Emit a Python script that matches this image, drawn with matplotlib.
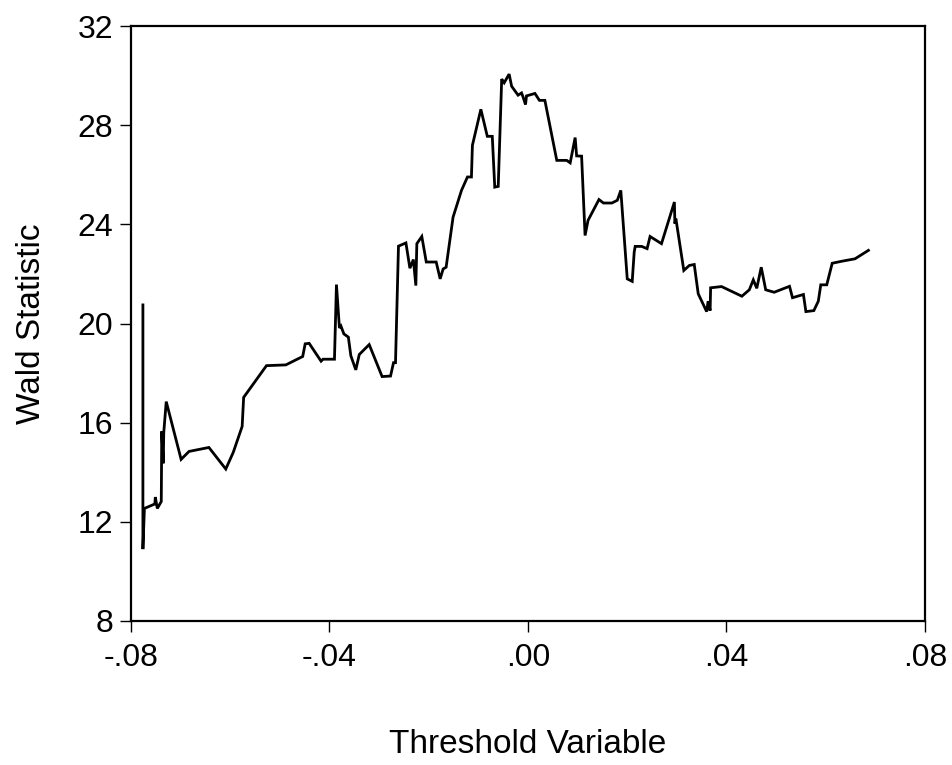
import matplotlib
matplotlib.use("Agg")
import matplotlib.pyplot as plt
from matplotlib.ticker import FixedLocator, FixedFormatter

threshold = [
    -0.0776, -0.0776, -0.0773, -0.0752, -0.0751, -0.0747, -0.0739, -0.0738, -0.0735,
    -0.0734, -0.0729, -0.0699, -0.0683, -0.0643, -0.0609, -0.0594, -0.0576, -0.0573,
    -0.0527, -0.0488, -0.0454, -0.0449, -0.0441, -0.0429, -0.0417, -0.0413, -0.0390,
    -0.0386, -0.0380, -0.0377, -0.0371, -0.0362, -0.0357, -0.0347, -0.0340, -0.0320,
    -0.0294, -0.0277, -0.0271, -0.0267, -0.0261, -0.0246, -0.0238, -0.0231, -0.0226,
    -0.0224, -0.0214, -0.0205, -0.0185, -0.0177, -0.0171, -0.0165, -0.0151, -0.0134,
    -0.0122, -0.0114, -0.0112, -0.0095, -0.0082, -0.0072, -0.0067, -0.0060, -0.0053,
    -0.0048, -0.0038, -0.0033, -0.0020, -0.0013, -0.0010, -0.0005, -0.0003, 0.0014,
    0.0023, 0.0034, 0.0058, 0.0078, 0.0085, 0.0095, 0.0098, 0.0108, 0.0115, 0.0121,
    0.0143, 0.0152, 0.0169, 0.0180, 0.0187, 0.0200, 0.0210, 0.0214, 0.0216, 0.0229,
    0.0240, 0.0246, 0.0269, 0.0295, 0.0296, 0.0298, 0.0314, 0.0325, 0.0335, 0.0343,
    0.0360, 0.0363, 0.0367, 0.0368, 0.0390, 0.0431, 0.0446, 0.0454, 0.0461, 0.0470,
    0.0479, 0.0496, 0.0527, 0.0533, 0.0555, 0.0560, 0.0576, 0.0585, 0.0590, 0.0602,
    0.0613, 0.0632, 0.0659, 0.0686,
]
wald = [
    20.75, 10.90, 12.54, 12.72, 13.00, 12.54, 12.82, 15.65, 14.36,
    15.60, 16.85, 14.52, 14.84, 15.00, 14.13, 14.80, 15.85, 17.02,
    18.30, 18.33, 18.67, 19.18, 19.20, 18.84, 18.48, 18.56, 18.56,
    21.57, 19.82, 19.90, 19.58, 19.45, 18.70, 18.13, 18.75, 19.15,
    17.86, 17.88, 18.42, 18.42, 23.12, 23.25, 22.23, 22.58, 21.53,
    23.22, 23.51, 22.48, 22.48, 21.80, 22.20, 22.27, 24.29, 25.37,
    25.91, 25.91, 27.19, 28.64, 27.55, 27.55, 25.50, 25.53, 29.86,
    29.71, 30.06, 29.57, 29.21, 29.30, 29.14, 28.83, 29.18, 29.28,
    29.00, 29.00, 26.58, 26.58, 26.48, 27.50, 26.76, 26.75, 23.55, 24.16,
    25.00, 24.86, 24.86, 24.97, 25.37, 21.80, 21.70, 22.88, 23.11, 23.11,
    23.02, 23.51, 23.22, 24.90, 24.03, 24.23, 22.14, 22.34, 22.38, 21.20,
    20.48, 20.90, 20.52, 21.44, 21.49, 21.10, 21.36, 21.76, 21.42, 22.27,
    21.36, 21.26, 21.50, 21.04, 21.17, 20.48, 20.52, 20.90, 21.56, 21.56,
    22.43, 22.51, 22.61, 22.95,
]

x_ticks = [-0.08, -0.04, 0.0, 0.04, 0.08]
x_tick_labels = ["-.08", "-.04", ".00", ".04", ".08"]
y_ticks = [8, 12, 16, 20, 24, 28, 32]
y_tick_labels = ["8", "12", "16", "20", "24", "28", "32"]

plt.rcParams["font.family"] = ["Liberation Sans", "DejaVu Sans"]

fig = plt.figure(figsize=(9.53, 7.65), dpi=100)
ax = fig.add_axes([131 / 953, 1 - 621 / 765, (925 - 131) / 953, (621 - 26) / 765])

ax.plot(threshold, wald, color="black", linewidth=2.0, solid_joinstyle="miter")

ax.set_xlim(-0.08, 0.08)
ax.set_ylim(8, 32)
ax.xaxis.set_major_locator(FixedLocator(x_ticks))
ax.xaxis.set_major_formatter(FixedFormatter(x_tick_labels))
ax.yaxis.set_major_locator(FixedLocator(y_ticks))
ax.yaxis.set_major_formatter(FixedFormatter(y_tick_labels))

ax.tick_params(axis="both", direction="out", length=8, width=1.0, labelsize=23,
               colors="black")
ax.tick_params(axis="x", pad=8)
ax.tick_params(axis="y", pad=5)
for s in ax.spines.values():
    s.set_linewidth(1.6)
    s.set_color("black")

ax.set_xlabel("Threshold Variable", fontsize=24, labelpad=40)
ax.set_ylabel("Wald Statistic", fontsize=24, labelpad=22)

fig.savefig("out.png", dpi=100, facecolor="white")
